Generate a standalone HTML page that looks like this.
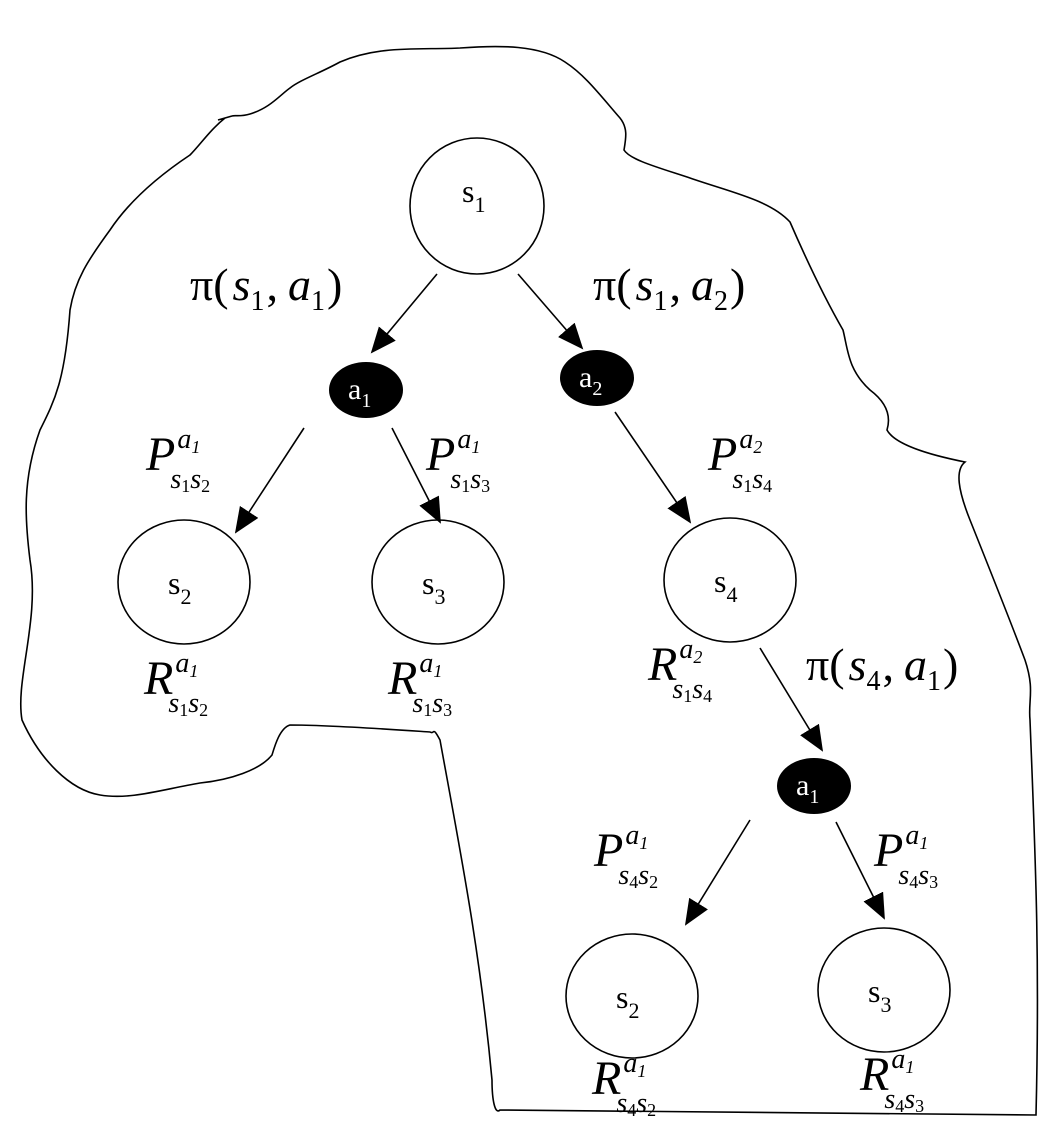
<!DOCTYPE html>
<html><head><meta charset="utf-8"><style>
html,body{margin:0;padding:0;background:#fff;}
svg{display:block;}
text{font-family:"Liberation Serif",serif;fill:#000;}
.m{font-style:italic;}
</style></head><body>
<svg width="1060" height="1134" viewBox="0 0 1060 1134" xmlns="http://www.w3.org/2000/svg">
<defs><marker id="ah" markerWidth="26" markerHeight="22" refX="24" refY="11" orient="auto" markerUnits="userSpaceOnUse" viewBox="0 0 26 22"><path d="M0,0 L26,11 L0,22 z" fill="#000"/></marker></defs>
<path fill="none" stroke="#000" stroke-width="1.6" d="M218,120 L232,116 C235,115 240,117 250,114 C270,108 280,95 290,88 C300,80 320,73 340,62 C380,45 420,50 460,48 C500,45 540,45 565,62 C585,75 600,95 620,118 C628,128 626,138 624,150 C630,160 660,168 690,178 C730,192 770,200 790,222 C800,245 820,290 843,330 C848,350 848,370 870,390 C890,405 890,420 887,430 C895,445 930,455 965,462 C955,470 958,490 970,520 C990,570 1010,620 1025,660 C1035,690 1028,700 1030,720 C1035,850 1040,950 1036,1115 L500,1110 C495,1115 492,1100 492,1080 C480,950 460,850 440,740 C432,725 435,735 430,732 C400,730 330,725 290,725 C280,728 275,745 272,755 C260,770 230,780 200,783 C160,790 130,800 100,795 C70,790 40,760 22,720 C15,680 40,620 30,560 C25,520 22,480 40,430 C55,400 65,380 70,310 C75,280 88,260 110,230 C130,200 160,175 190,155 C200,145 210,130 225,118"/>
<g fill="#fff" stroke="#000" stroke-width="1.6">
<ellipse cx="477" cy="206" rx="67" ry="68"/>
<ellipse cx="184" cy="582" rx="66" ry="62"/>
<ellipse cx="438" cy="582" rx="66" ry="62"/>
<ellipse cx="730" cy="580" rx="66" ry="62"/>
<ellipse cx="632" cy="996" rx="66" ry="62"/>
<ellipse cx="884" cy="990" rx="66" ry="62"/>
</g>
<g fill="#000">
<ellipse cx="366" cy="390" rx="37" ry="28"/>
<ellipse cx="597" cy="378" rx="37" ry="28"/>
<ellipse cx="814" cy="786" rx="37" ry="28"/>
</g>
<g stroke="#000" stroke-width="1.6" marker-end="url(#ah)">
<line x1="437" y1="274" x2="372" y2="352"/>
<line x1="518" y1="274" x2="582" y2="348"/>
<line x1="304" y1="428" x2="236" y2="532"/>
<line x1="392" y1="428" x2="440" y2="522"/>
<line x1="615" y1="412" x2="690" y2="522"/>
<line x1="760" y1="648" x2="822" y2="750"/>
<line x1="750" y1="820" x2="686" y2="924"/>
<line x1="836" y1="822" x2="884" y2="918"/>
</g>
<g font-size="32">
<text x="462" y="202">s<tspan font-size="22" dy="10">1</tspan></text>
<text x="168" y="594">s<tspan font-size="22" dy="10">2</tspan></text>
<text x="422" y="594">s<tspan font-size="22" dy="10">3</tspan></text>
<text x="714" y="592">s<tspan font-size="22" dy="10">4</tspan></text>
<text x="616" y="1008">s<tspan font-size="22" dy="10">2</tspan></text>
<text x="868" y="1002">s<tspan font-size="22" dy="10">3</tspan></text>
</g>
<g font-size="30" fill="#fff">
<text x="348" y="399" style="fill:#fff">a<tspan font-size="20" dy="8">1</tspan></text>
<text x="579" y="387" style="fill:#fff">a<tspan font-size="20" dy="8">2</tspan></text>
<text x="796" y="795" style="fill:#fff">a<tspan font-size="20" dy="8">1</tspan></text>
</g>
<g font-size="46">
<text x="190" y="300">π(<tspan class="m" dx="4">s</tspan><tspan font-size="28" dy="10">1</tspan><tspan dy="-10" dx="2">,</tspan><tspan class="m" dx="10">a</tspan><tspan font-size="28" dy="10">1</tspan><tspan dy="-10" dx="2">)</tspan></text>
<text x="593" y="300">π(<tspan class="m" dx="4">s</tspan><tspan font-size="28" dy="10">1</tspan><tspan dy="-10" dx="2">,</tspan><tspan class="m" dx="10">a</tspan><tspan font-size="28" dy="10">2</tspan><tspan dy="-10" dx="2">)</tspan></text>
<text x="806" y="680">π(<tspan class="m" dx="4">s</tspan><tspan font-size="28" dy="10">4</tspan><tspan dy="-10" dx="2">,</tspan><tspan class="m" dx="10">a</tspan><tspan font-size="28" dy="10">1</tspan><tspan dy="-10" dx="2">)</tspan></text>
</g>
<g font-size="48" class="m">
<text x="146" y="470" class="m">P<tspan font-size="28" dx="2" dy="-22">a</tspan><tspan font-size="18" dy="5">1</tspan><tspan font-size="28" dx="-30" dy="35">s</tspan><tspan font-size="18" dy="4" font-style="normal">1</tspan><tspan font-size="28" dy="-4">s</tspan><tspan font-size="18" dy="4" font-style="normal">2</tspan></text>
<text x="426" y="470" class="m">P<tspan font-size="28" dx="2" dy="-22">a</tspan><tspan font-size="18" dy="5">1</tspan><tspan font-size="28" dx="-30" dy="35">s</tspan><tspan font-size="18" dy="4" font-style="normal">1</tspan><tspan font-size="28" dy="-4">s</tspan><tspan font-size="18" dy="4" font-style="normal">3</tspan></text>
<text x="708" y="470" class="m">P<tspan font-size="28" dx="2" dy="-22">a</tspan><tspan font-size="18" dy="5">2</tspan><tspan font-size="28" dx="-30" dy="35">s</tspan><tspan font-size="18" dy="4" font-style="normal">1</tspan><tspan font-size="28" dy="-4">s</tspan><tspan font-size="18" dy="4" font-style="normal">4</tspan></text>
<text x="594" y="866" class="m">P<tspan font-size="28" dx="2" dy="-22">a</tspan><tspan font-size="18" dy="5">1</tspan><tspan font-size="28" dx="-30" dy="35">s</tspan><tspan font-size="18" dy="4" font-style="normal">4</tspan><tspan font-size="28" dy="-4">s</tspan><tspan font-size="18" dy="4" font-style="normal">2</tspan></text>
<text x="874" y="866" class="m">P<tspan font-size="28" dx="2" dy="-22">a</tspan><tspan font-size="18" dy="5">1</tspan><tspan font-size="28" dx="-30" dy="35">s</tspan><tspan font-size="18" dy="4" font-style="normal">4</tspan><tspan font-size="28" dy="-4">s</tspan><tspan font-size="18" dy="4" font-style="normal">3</tspan></text>
<text x="144" y="694" class="m">R<tspan font-size="28" dx="2" dy="-22">a</tspan><tspan font-size="18" dy="5">1</tspan><tspan font-size="28" dx="-30" dy="35">s</tspan><tspan font-size="18" dy="4" font-style="normal">1</tspan><tspan font-size="28" dy="-4">s</tspan><tspan font-size="18" dy="4" font-style="normal">2</tspan></text>
<text x="388" y="694" class="m">R<tspan font-size="28" dx="2" dy="-22">a</tspan><tspan font-size="18" dy="5">1</tspan><tspan font-size="28" dx="-30" dy="35">s</tspan><tspan font-size="18" dy="4" font-style="normal">1</tspan><tspan font-size="28" dy="-4">s</tspan><tspan font-size="18" dy="4" font-style="normal">3</tspan></text>
<text x="648" y="680" class="m">R<tspan font-size="28" dx="2" dy="-22">a</tspan><tspan font-size="18" dy="5">2</tspan><tspan font-size="28" dx="-30" dy="35">s</tspan><tspan font-size="18" dy="4" font-style="normal">1</tspan><tspan font-size="28" dy="-4">s</tspan><tspan font-size="18" dy="4" font-style="normal">4</tspan></text>
<text x="592" y="1094" class="m">R<tspan font-size="28" dx="2" dy="-22">a</tspan><tspan font-size="18" dy="5">1</tspan><tspan font-size="28" dx="-30" dy="35">s</tspan><tspan font-size="18" dy="4" font-style="normal">4</tspan><tspan font-size="28" dy="-4">s</tspan><tspan font-size="18" dy="4" font-style="normal">2</tspan></text>
<text x="860" y="1090" class="m">R<tspan font-size="28" dx="2" dy="-22">a</tspan><tspan font-size="18" dy="5">1</tspan><tspan font-size="28" dx="-30" dy="35">s</tspan><tspan font-size="18" dy="4" font-style="normal">4</tspan><tspan font-size="28" dy="-4">s</tspan><tspan font-size="18" dy="4" font-style="normal">3</tspan></text>
</g>
</svg>
</body></html>
